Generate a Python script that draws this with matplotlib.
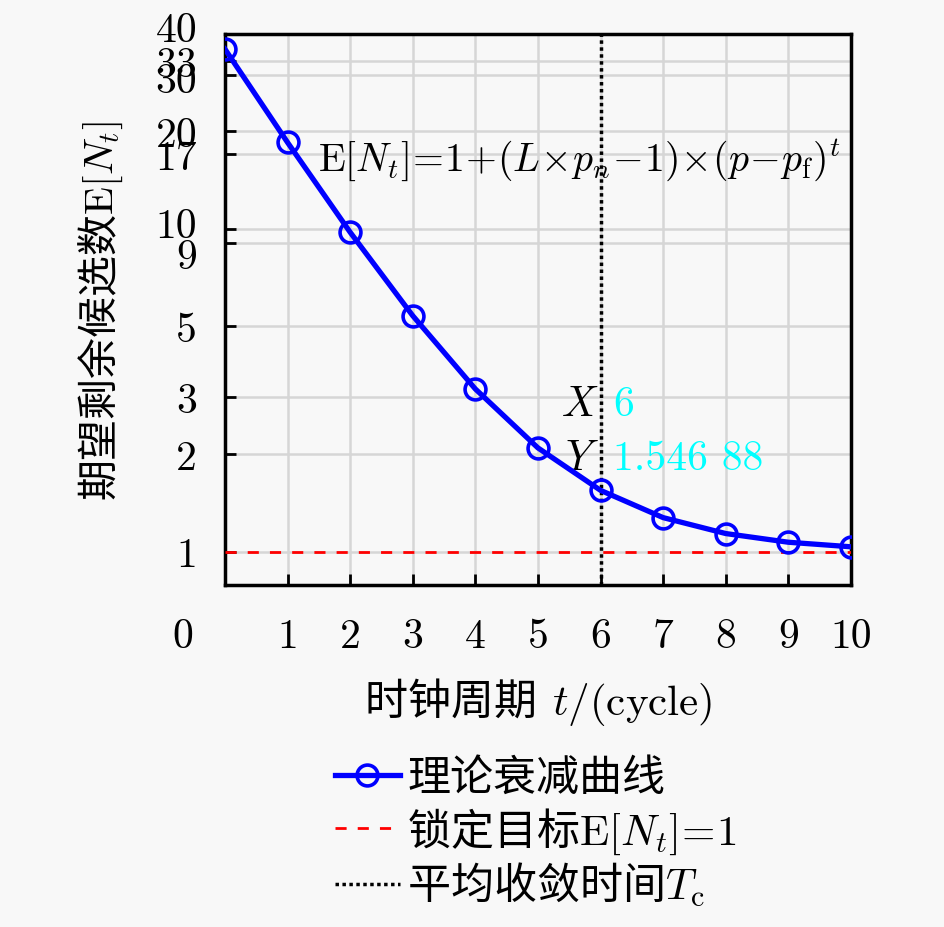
import matplotlib
matplotlib.use('Agg')
import matplotlib.pyplot as plt
import matplotlib.transforms as mtransforms
import numpy as np

plt.rcParams['font.family'] = ['cmr10', 'Noto Sans CJK SC', 'DejaVu Sans']
plt.rcParams['mathtext.fontset'] = 'cm'
plt.rcParams['axes.unicode_minus'] = False

# data
cycles = [0, 1, 2, 3, 4, 5, 6, 7, 8, 9, 10]
expected_n = [36.0, 18.5, 9.75, 5.375, 3.1875, 2.09375, 1.546875, 1.2734, 1.1367, 1.0684, 1.0342]
target_level = 1
converge_t = 6
tip_x_str = '6'
tip_y_str = '1.546 88'

ytick_vals = [1, 2, 3, 5, 9, 10, 17, 20, 30, 33, 40]
xtick_vals = [0, 1, 2, 3, 4, 5, 6, 7, 8, 9, 10]

cjk = 'Noto Sans CJK SC'
bg = '#f8f8f8'
fig = plt.figure(figsize=(9.45, 9.28), dpi=100, facecolor=bg)
ax = fig.add_axes([0.238, 0.369, 0.9005 - 0.238, 0.962 - 0.369])
ax.set_facecolor(bg)

ax.plot(cycles, expected_n, color='#0000ff', lw=3.8, marker='o', ms=15,
        mfc='none', mec='#0000ff', mew=2.6, label='理论衰减曲线', zorder=5)
ax.plot([cycles[0], cycles[-1]], [target_level, target_level], color='red', ls=(0, (4, 4)),
        lw=2, label=r'锁定目标$\mathrm{E}[N_t]\!=\!1$', zorder=4)
ax.axvline(converge_t, color='black', ls=(0, (1, 1)), lw=2.5, label=r'平均收敛时间$T_\mathrm{c}$', zorder=4)

ax.set_yscale('log')
ax.set_xlim(0, 10)
ax.set_ylim(0.79, 40)
ax.set_yticks(ytick_vals)
ax.set_yticklabels([str(v) for v in ytick_vals])
ax.yaxis.set_minor_locator(matplotlib.ticker.NullLocator())
ax.set_xticks(xtick_vals)
ax.set_xticklabels([str(v) for v in xtick_vals])

ax.tick_params(axis='both', direction='in', length=8, width=2, labelsize=30)
ax.tick_params(axis='x', pad=24)
ax.tick_params(axis='y', pad=20)
ax.grid(True, color='#d6d6d6', lw=1.8)
for s in ax.spines.values():
    s.set_linewidth(2.5)

# the "0" label sits left of the axis corner
offset = mtransforms.ScaledTranslation(-0.42, 0, fig.dpi_scale_trans)
lab0 = ax.get_xticklabels()[0]
lab0.set_transform(lab0.get_transform() + offset)

# crowded y labels are nudged apart a little, as in the original
nudges = {40: 0.08, 30: -0.03, 10: 0.06, 9: -0.1}
for val, lab in zip(ytick_vals, ax.get_yticklabels()):
    if val in nudges:
        lab.set_transform(lab.get_transform() +
                          mtransforms.ScaledTranslation(0, nudges[val], fig.dpi_scale_trans))

ax.set_xlabel(r'时钟周期 $\,t/(\mathrm{cycle})$', fontsize=31, labelpad=14, family=cjk)
ax.set_ylabel(r'期望剩余候选数$\mathrm{E}[N_t]$', fontsize=29.5, labelpad=22, family=cjk)

ax.text(1.49, 16.5, r'$\mathrm{E}[N_t]\!=\!1\!+\!(L\!\times\! p_n\!-\!1)\!\times\!(p\!-\!p_\mathrm{f})^t$',
        fontsize=28.5, va='center', ha='left', zorder=6)

ax.text(5.97, 2.85, r'$X$', fontsize=30, ha='right', va='center')
ax.text(6.2, 2.85, tip_x_str, fontsize=30, ha='left', va='center', color='cyan')
ax.text(5.97, 1.95, r'$Y$', fontsize=30, ha='right', va='center')
ax.text(6.2, 1.95, tip_y_str, fontsize=30, ha='left', va='center', color='cyan')

fig.legend(loc='upper left', bbox_to_anchor=(335 / 945, 1 - 757 / 928), frameon=False,
           prop={'family': cjk, 'size': 31}, handlelength=1.5, handletextpad=0.18,
           labelspacing=0.12, borderpad=0, borderaxespad=0)

fig.savefig('out.png', dpi=100, facecolor=bg)
